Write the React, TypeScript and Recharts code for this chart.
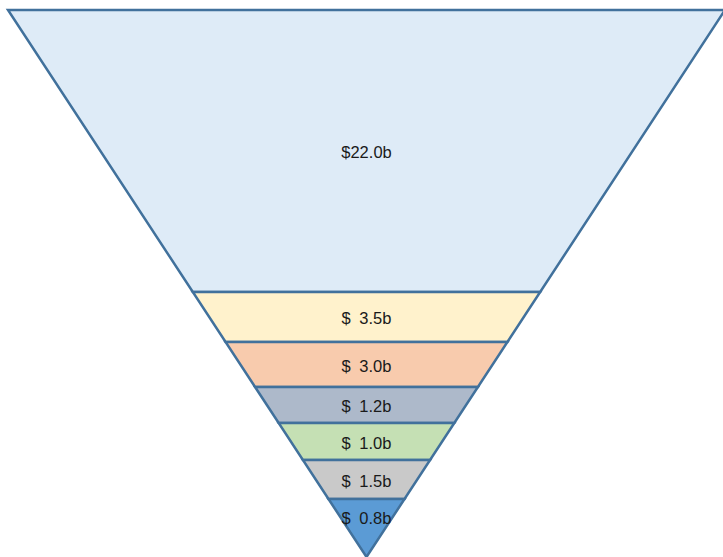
import { BarChart, Bar, XAxis, YAxis } from 'recharts';

// funnel stages, top to bottom
const stageLabels = ['$22.0b', '$ 3.5b', '$ 3.0b', '$ 1.2b', '$ 1.0b', '$ 1.5b', '$ 0.8b'];
const stageDepth = [282, 50, 45, 36, 37, 39, 58];
const stageColors = ['#DEEBF7', '#FFF2CC', '#F8CBAD', '#ADB9CA', '#C5E0B4', '#C9C9C9', '#5B9BD5'];

const totalDepth = stageDepth.reduce((a, b) => a + b, 0);

const row: Record<string, number | string> = { name: 'funnel' };
stageDepth.forEach((d, i) => {
  row['s' + i] = d;
});
const data = [row];

function Segment(props: any) {
  const { x, y, width, height, background, stage } = props;
  const top = Math.min(y, y + height);
  const bottom = Math.max(y, y + height);
  const plotTop = background ? Math.min(background.y, background.y + background.height) : 10;
  const plotBottom = background ? Math.max(background.y, background.y + background.height) : 557;
  const cx = x + width / 2;
  const half = width / 2;
  const hw = (yy: number) => (half * (plotBottom - yy)) / (plotBottom - plotTop);
  const pts = [
    [cx - hw(top), top],
    [cx + hw(top), top],
    [cx + hw(bottom), bottom],
    [cx - hw(bottom), bottom],
  ]
    .map((p) => p.join(','))
    .join(' ');
  const isLast = stage === stageLabels.length - 1;
  const ly = isLast ? top + (bottom - top) / 3 : (top + bottom) / 2 + 1;
  const label = stageLabels[stage];
  // accounting style: wider gap after the currency sign
  const padded = label.startsWith('$ ');
  return (
    <g>
      <polygon points={pts} fill={stageColors[stage]} stroke="#41719C" strokeWidth={2.5} />
      <text
        x={cx}
        y={ly}
        textAnchor="middle"
        dominantBaseline="central"
        fontFamily="'Liberation Sans', Arial, sans-serif"
        fontSize={16.5}
        fill="#1a1a1a"
      >
        {padded ? (
          <>
            <tspan>$</tspan>
            <tspan dx={4}>{label.slice(1)}</tspan>
          </>
        ) : (
          label
        )}
      </text>
    </g>
  );
}

export default function App() {
  return (
    <div style={{ position: 'absolute', left: 0, top: 0, width: 723, height: 557, overflow: 'hidden', background: '#fff' }}>
      <BarChart
        width={725}
        height={557}
        data={data}
        margin={{ top: 10, right: 0, bottom: 0, left: 8 }}
        barCategoryGap={0}
      >
        <XAxis dataKey="name" hide />
        <YAxis type="number" domain={[0, totalDepth]} reversed hide />
        {stageDepth.map((_, i) => (
          <Bar
            key={i}
            dataKey={'s' + i}
            stackId="funnel"
            isAnimationActive={false}
            shape={(p: any) => <Segment {...p} stage={i} />}
          />
        ))}
      </BarChart>
    </div>
  );
}
